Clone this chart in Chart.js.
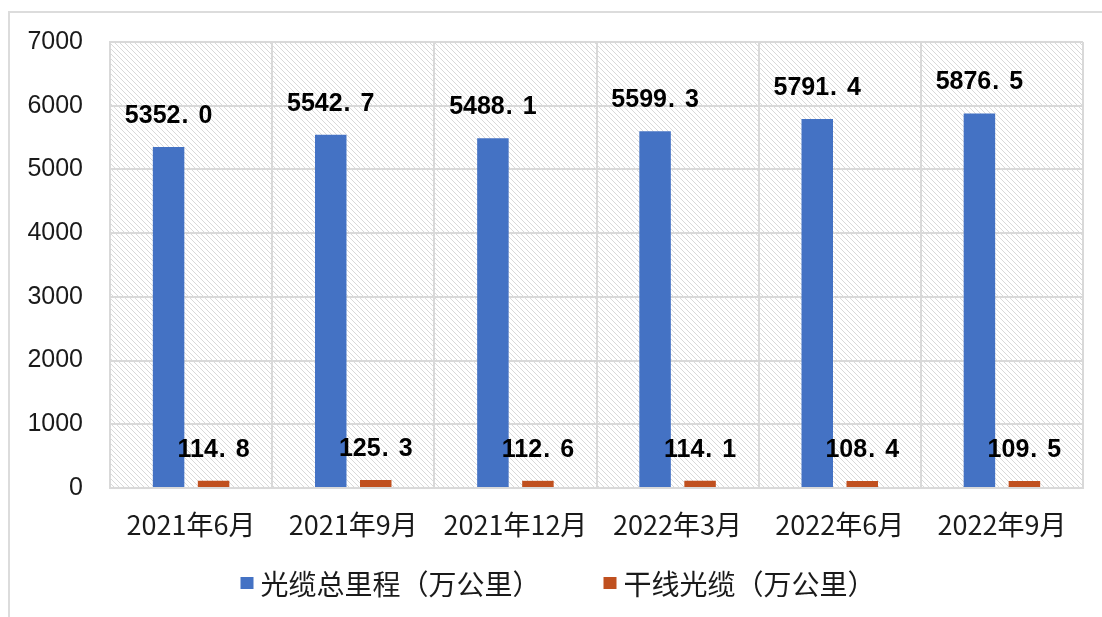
<!DOCTYPE html>
<html>
<head>
<meta charset="utf-8">
<script src="https://cdn.jsdelivr.net/npm/chart.js@4/dist/chart.umd.min.js"></script>
<style>
  html,body{margin:0;padding:0;background:#fff;}
  #wrap{position:relative;width:1102px;height:617px;}
</style>
</head>
<body>
<div id="wrap"><canvas id="c" width="1102" height="617"></canvas></div>
<script>
const categories = ['2021年6月','2021年9月','2021年12月','2022年3月','2022年6月','2022年9月'];
const totalLength = [5352.0, 5542.7, 5488.1, 5599.3, 5791.4, 5876.5];
const trunkLength = [114.8, 125.3, 112.6, 114.1, 108.4, 109.5];
const seriesNames = ['光缆总里程（万公里）', '干线光缆（万公里）'];
const yTicks = [0, 1000, 2000, 3000, 4000, 5000, 6000, 7000];

const FONT = '"Liberation Sans", Arial, "Noto Sans CJK SC", sans-serif';
const CJK = '"Noto Sans CJK SC", "Liberation Sans", sans-serif';
const GRID = '#d9d9d9';

const framePlugin = {
  id: 'frame',
  beforeDraw(chart) {
    const ctx = chart.ctx, a = chart.chartArea;
    ctx.save();
    ctx.fillStyle = '#fff';
    ctx.fillRect(0, 0, chart.width, chart.height);
    ctx.strokeStyle = '#dcdcdc';
    ctx.lineWidth = 2;
    ctx.beginPath();
    ctx.moveTo(9, chart.height); ctx.lineTo(9, 12); ctx.lineTo(chart.width, 12);
    ctx.stroke();
    ctx.beginPath();
    ctx.rect(a.left, a.top, a.right - a.left, a.bottom - a.top);
    ctx.clip();
    ctx.strokeStyle = 'rgba(0,0,0,0.15)';
    ctx.lineWidth = 1;
    const h = a.bottom - a.top;
    ctx.beginPath();
    for (let k = -h; k < a.right - a.left; k += 5) {
      ctx.moveTo(a.left + k, a.top);
      ctx.lineTo(a.left + k + h, a.bottom);
    }
    ctx.stroke();
    ctx.restore();
  }
};

const labelPlugin = {
  id: 'valueLabels',
  afterDatasetsDraw(chart) {
    const ctx = chart.ctx;
    ctx.save();
    ctx.font = 'bold 25px ' + FONT;
    ctx.fillStyle = '#000';
    ctx.textBaseline = 'middle';
    ctx.textAlign = 'left';
    chart.data.datasets.forEach((ds, di) => {
      const meta = chart.getDatasetMeta(di);
      meta.data.forEach((el, i) => {
        const s = ds.data[i].toFixed(1);
        const [ip, dp] = s.split('.');
        const wi = ctx.measureText(ip).width;
        const wd = ctx.measureText(dp).width;
        const gap = 18;
        const total = wi + gap + wd;
        const x0 = el.x - total / 2;
        const y = el.y - 31;
        ctx.fillText(ip, x0, y);
        ctx.fillText('.', x0 + wi + 1, y);
        ctx.fillText(dp, x0 + wi + gap, y);
      });
    });
    ctx.restore();
  }
};

const legendPlugin = {
  id: 'customLegend',
  afterDraw(chart) {
    const ctx = chart.ctx;
    ctx.save();
    ctx.font = '28px ' + CJK;
    ctx.textBaseline = 'middle';
    ctx.textAlign = 'left';
    const box = 13, boxH = 12, gapBox = 7, gapItem = 63;
    const items = chart.data.datasets.map(ds => ({
      label: ds.label, color: ds.backgroundColor, w: box + gapBox + ctx.measureText(ds.label).width
    }));
    const totalW = items.reduce((s, it) => s + it.w, 0) + gapItem * (items.length - 1);
    let x = chart.width / 2 + 7 - totalW / 2;
    const y = 583;
    items.forEach(it => {
      ctx.fillStyle = it.color;
      ctx.fillRect(x, y - boxH / 2, box, boxH);
      ctx.fillStyle = '#1a1a1a';
      ctx.fillText(it.label, x + box + gapBox, y + 1);
      x += it.w + gapItem;
    });
    ctx.restore();
  }
};

new Chart(document.getElementById('c'), {
  type: 'bar',
  data: {
    labels: categories,
    datasets: [
      { label: seriesNames[0], data: totalLength, backgroundColor: '#4472c4',
        categoryPercentage: 0.555, barPercentage: 0.70 },
      { label: seriesNames[1], data: trunkLength, backgroundColor: '#c0501f',
        categoryPercentage: 0.555, barPercentage: 0.70 }
    ]
  },
  options: {
    responsive: false,
    animation: false,
    devicePixelRatio: 1,
    layout: { padding: { left: 0, right: 19, top: 41, bottom: 60 } },
    plugins: { legend: { display: false }, tooltip: { enabled: false } },
    scales: {
      x: {
        grid: { color: GRID, lineWidth: 2, drawTicks: false, offset: true },
        border: { color: GRID, width: 2 },
        ticks: { font: { size: 27, family: CJK }, color: '#1a1a1a', padding: 21, maxRotation: 0, autoSkip: false },
        afterFit(s) { s.height = 617 - 60 - 488; }
      },
      y: {
        min: 0, max: 7000,
        afterBuildTicks(s) { s.ticks = yTicks.map(v => ({ value: v })); },
        grid: { color: GRID, lineWidth: 2, drawTicks: false },
        border: { color: GRID, width: 2 },
        ticks: { font: { size: 25, family: FONT }, color: '#1a1a1a', padding: 27,
                 callback: v => String(v) },
        afterFit(s) { s.width = 110; }
      }
    }
  },
  plugins: [framePlugin, labelPlugin, legendPlugin]
});
</script>
</body>
</html>
